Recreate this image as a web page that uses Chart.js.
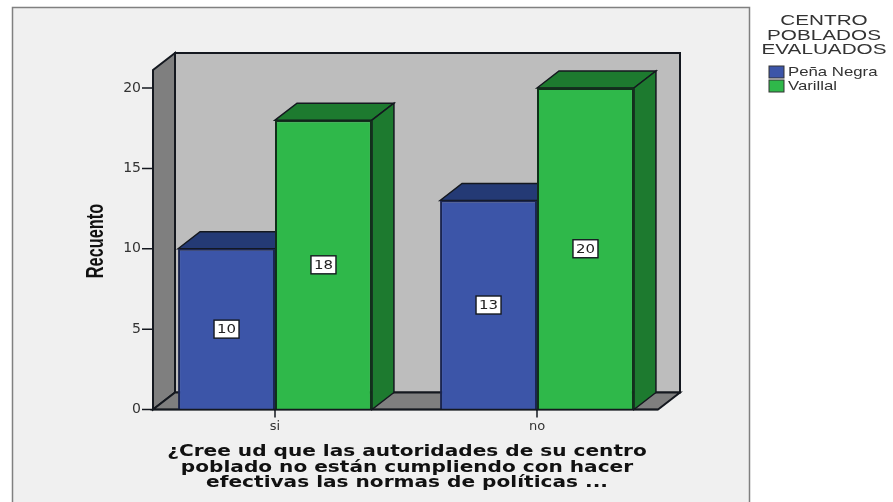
<!DOCTYPE html>
<html>
<head>
<meta charset="utf-8">
<title>Recuento</title>
<script src="https://cdn.jsdelivr.net/npm/chart.js@4/dist/chart.umd.min.js"></script>
<style>
  html, body { margin: 0; padding: 0; background: #fff; }
  canvas { display: block; }
</style>
</head>
<body>
<canvas id="chart" width="893" height="502"></canvas>
<script>
const categories = ["si", "no"];
const penaNegra = [10, 13];
const varillal = [18, 20];
const yTicks = [0, 5, 10, 15, 20];
const yTitle = "Recuento";
const xTitle = [
  "¿Cree ud que las autoridades de su centro",
  "poblado no están cumpliendo con hacer",
  "efectivas las normas de políticas ..."
];
const legendTitle = ["CENTRO", "POBLADOS", "EVALUADOS"];

const LINE = "#14181f";
const DEPTH_X = 22;
const DEPTH_Y = 17;

function poly(ctx, pts, fill) {
  ctx.beginPath();
  ctx.moveTo(pts[0][0], pts[0][1]);
  for (let i = 1; i < pts.length; i++) ctx.lineTo(pts[i][0], pts[i][1]);
  ctx.closePath();
  ctx.fillStyle = fill;
  ctx.fill();
  ctx.stroke();
}

// draws text stretched horizontally, the original export has wide glyphs
function wideText(ctx, text, x, y, sx, font, color, align) {
  ctx.save();
  ctx.translate(x, y);
  ctx.scale(sx, 1);
  ctx.font = font;
  ctx.fillStyle = color;
  ctx.textAlign = align || "center";
  ctx.textBaseline = "middle";
  ctx.fillText(text, 0, 0);
  ctx.restore();
}

const walls3d = {
  id: "walls3d",
  beforeDraw(chart) {
    const ctx = chart.ctx;
    const y = chart.scales.y;
    const base = y.getPixelForValue(0);
    const top = chart.chartArea.top;
    const left = 153;
    const right = 658;
    ctx.save();
    ctx.fillStyle = "#f0f0f0";
    ctx.strokeStyle = "#808080";
    ctx.lineWidth = 1.5;
    ctx.fillRect(12.5, 7.5, 737, 510);
    ctx.strokeRect(12.5, 7.5, 737, 510);

    ctx.strokeStyle = LINE;
    ctx.lineWidth = 2;
    poly(ctx, [[left + DEPTH_X, top - DEPTH_Y], [right + DEPTH_X, top - DEPTH_Y], [right + DEPTH_X, base - DEPTH_Y], [left + DEPTH_X, base - DEPTH_Y]], "#bdbdbd");
    poly(ctx, [[left, top], [left + DEPTH_X, top - DEPTH_Y], [left + DEPTH_X, base - DEPTH_Y], [left, base]], "#7f7f7f");
    poly(ctx, [[left, base], [left + DEPTH_X, base - DEPTH_Y], [right + DEPTH_X, base - DEPTH_Y], [right, base]], "#7f7f7f");
    ctx.restore();
  },
  beforeDatasetsDraw(chart) {
    const ctx = chart.ctx;
    const tops = ["#243a75", "#1d7a2f"];
    ctx.save();
    ctx.lineWidth = 1.5;
    ctx.strokeStyle = LINE;
    chart.data.datasets.forEach((ds, d) => {
      chart.getDatasetMeta(d).data.forEach((bar) => {
        const l = bar.x - bar.width / 2;
        const r = bar.x + bar.width / 2;
        poly(ctx, [[l, bar.y], [l + DEPTH_X, bar.y - DEPTH_Y], [r + DEPTH_X, bar.y - DEPTH_Y], [r, bar.y]], tops[d]);
        poly(ctx, [[r, bar.y], [r + DEPTH_X, bar.y - DEPTH_Y], [r + DEPTH_X, bar.base - DEPTH_Y], [r, bar.base]], tops[d]);
      });
    });
    ctx.restore();
  },
  afterDatasetsDraw(chart) {
    const ctx = chart.ctx;
    const y = chart.scales.y;
    const x = chart.scales.x;
    const base = y.getPixelForValue(0);
    ctx.save();
    ctx.strokeStyle = LINE;
    ctx.lineWidth = 1.5;
    ctx.beginPath();
    // axis line and tick marks
    ctx.moveTo(153, base);
    ctx.lineTo(658, base);
    yTicks.forEach((v) => {
      ctx.moveTo(142, y.getPixelForValue(v));
      ctx.lineTo(153, y.getPixelForValue(v));
    });
    categories.forEach((c, i) => {
      ctx.moveTo(x.getPixelForTick(i), base);
      ctx.lineTo(x.getPixelForTick(i), base + 8);
    });
    ctx.stroke();

    // value labels
    chart.data.datasets.forEach((ds, d) => {
      chart.getDatasetMeta(d).data.forEach((bar, i) => {
        const cy = (bar.y + bar.base) / 2;
        ctx.fillStyle = "#fff";
        ctx.strokeStyle = LINE;
        ctx.lineWidth = 1.4;
        ctx.fillRect(bar.x - 12.5, cy - 9, 25, 18);
        ctx.strokeRect(bar.x - 12.5, cy - 9, 25, 18);
        wideText(ctx, String(ds.data[i]), bar.x, cy + 0.5, 1.15, "13px 'DejaVu Sans'", "#222");
      });
    });

    // axis titles
    ctx.save();
    ctx.translate(96, 241);
    ctx.rotate(-Math.PI / 2);
    wideText(ctx, yTitle, 0, 0, 0.68, "bold 24px 'Liberation Sans'", "#111");
    ctx.restore();
    xTitle.forEach((line, i) => {
      wideText(ctx, line, 407, 452 + i * 15.7, 1.34, "bold 15px 'DejaVu Sans'", "#111");
    });

    // legend
    legendTitle.forEach((line, i) => {
      wideText(ctx, line, 824, 21 + i * 14.5, 1.38, "15px 'Liberation Sans'", "#333");
    });
    chart.data.datasets.forEach((ds, d) => {
      const ly = 72 + d * 14;
      ctx.fillStyle = ds.backgroundColor;
      ctx.strokeStyle = "#333";
      ctx.lineWidth = 1;
      ctx.fillRect(769, ly - 6, 15, 12);
      ctx.strokeRect(769, ly - 6, 15, 12);
      wideText(ctx, ds.label, 788, ly, 1.29, "13px 'Liberation Sans'", "#333", "left");
    });
    ctx.restore();
  }
};

new Chart(document.getElementById("chart"), {
  type: "bar",
  data: {
    labels: categories,
    datasets: [
      { label: "Peña Negra", data: penaNegra, backgroundColor: "#3c55a8", borderColor: "#1a2550", borderWidth: 2 },
      { label: "Varillal", data: varillal, backgroundColor: "#2fb84a", borderColor: "#10301a", borderWidth: 2 }
    ]
  },
  options: {
    responsive: false,
    animation: false,
    layout: { padding: { top: 70, right: 225, left: 0, bottom: 0 } },
    categoryPercentage: 0.74,
    barPercentage: 1,
    plugins: { legend: { display: false }, tooltip: { enabled: false } },
    scales: {
      x: {
        grid: { display: false, drawTicks: false },
        border: { display: false },
        ticks: { color: "#333", padding: 9, font: { family: "DejaVu Sans", size: 13 } },
        afterFit(scale) { scale.height = 92.5; }
      },
      y: {
        min: 0,
        max: 21.12,
        grid: { display: false, drawTicks: false },
        border: { display: false },
        ticks: {
          stepSize: 5,
          includeBounds: false,
          padding: 3,
          color: "#333",
          font: { family: "DejaVu Sans", size: 14 }
        },
        afterFit(scale) { scale.width = 144; }
      }
    }
  },
  plugins: [walls3d]
});
</script>
</body>
</html>
